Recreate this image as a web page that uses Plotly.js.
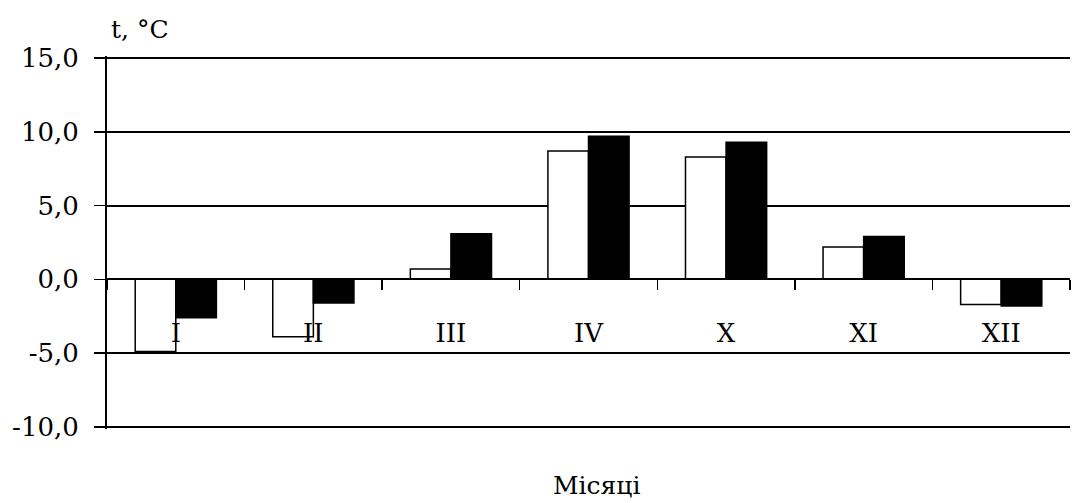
<!DOCTYPE html>
<html><head><meta charset="utf-8">
<script src="https://cdn.plot.ly/plotly-3.0.1.min.js"></script>
<style>html,body{margin:0;padding:0;background:#fff;}</style>
</head><body>
<div id="chart" style="width:1076px;height:503px;"></div>
<script>
const months = ["I", "II", "III", "IV", "X", "XI", "XII"];
const seriesWhite = [-4.9, -3.9, 0.7, 8.7, 8.3, 2.2, -1.7];
const seriesBlack = [-2.6, -1.6, 3.1, 9.7, 9.3, 2.9, -1.8];
const yTickVals = [-10, -5, 0, 5, 10, 15];
const yTickText = ["-10,0", "-5,0", "0,0", "5,0", "10,0", "15,0"];

const fontY = {family: "DejaVu Serif", size: 26, color: "#000"};
const fontX = {family: "DejaVu Serif", size: 26, color: "#000"};
const fontT = {family: "DejaVu Serif", size: 25, color: "#000"};

const traces = [
  {type: "bar", x: months, y: seriesWhite, marker: {color: "#fff", line: {color: "#000", width: 1.5}}, showlegend: false, hoverinfo: "none"},
  {type: "bar", x: months, y: seriesBlack, marker: {color: "#000", line: {color: "#000", width: 1.5}}, showlegend: false, hoverinfo: "none"}
];

const layout = {
  width: 1076, height: 503,
  margin: {l: 107, r: 6, t: 56, b: 74},
  paper_bgcolor: "#fff", plot_bgcolor: "#fff",
  font: fontY,
  barmode: "group", bargap: 0.41, bargroupgap: 0,
  xaxis: {
    type: "category", anchor: "free", position: 0.4012,
    showline: true, linecolor: "#000", linewidth: 2,
    ticks: "outside", ticklen: 10, tickwidth: 1.5, tickcolor: "#000",
    tickson: "boundaries", showgrid: false, zeroline: false,
    ticklabelstandoff: 30, tickfont: fontX
  },
  yaxis: {
    range: [-10.15, 15.15], tickvals: yTickVals, ticktext: yTickText,
    showline: true, linecolor: "#000", linewidth: 2,
    ticks: "outside", ticklen: 11, tickwidth: 1.5, tickcolor: "#000",
    showgrid: true, gridcolor: "#000", gridwidth: 2, zeroline: false,
    ticklabelstandoff: 10, tickfont: fontY
  },
  annotations: [
    {text: "t, °C", xref: "paper", yref: "paper", x: 0.0, y: 1, xanchor: "left", yanchor: "bottom", yshift: 10, xshift: 2, showarrow: false, font: fontT},
    {text: "Місяці", xref: "paper", yref: "paper", x: 0.508, y: 0, xanchor: "center", yanchor: "top", yshift: -40, showarrow: false, font: fontT}
  ]
};

Plotly.newPlot("chart", traces, layout, {displayModeBar: false, staticPlot: true});
</script>
</body></html>
